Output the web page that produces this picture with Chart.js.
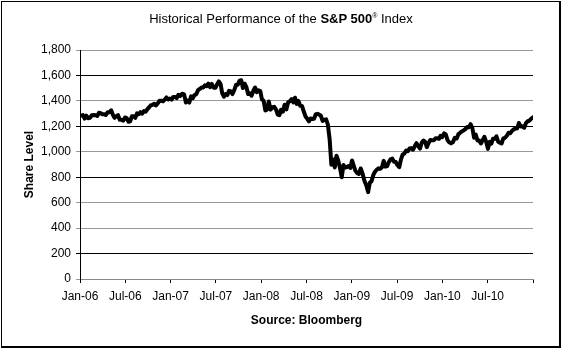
<!DOCTYPE html>
<html>
<head>
<meta charset="utf-8">
<script src="https://cdn.jsdelivr.net/npm/chart.js@4"></script>
<style>
  html, body { margin: 0; padding: 0; background: #fff; }
  #wrap { position: relative; width: 562px; height: 350px; overflow: hidden; }
  #frame { position: absolute; left: 1px; top: 1px; width: 557px; height: 344px;
           border-left: 1px solid #000; border-top: 1px solid #000;
           border-right: 2px solid #000; border-bottom: 2px solid #000; pointer-events: none; }
  #title { position: absolute; left: 0; width: 562px; top: 11px; text-align: center;
           font-family: "Liberation Sans", Arial, sans-serif; font-size: 13px; color: #000; }
  #title sup { font-size: 7px; vertical-align: 5px; }
  canvas { position: absolute; left: 0; top: 0; }
</style>
</head>
<body>
<div id="wrap">
  <canvas id="c" width="562" height="350"></canvas>
  <div id="title">Historical Performance of the <b>S&amp;P 500</b><sup>®</sup> Index</div>
  <div id="frame"></div>
</div>
<script>
// ---- Data (weekly closes) ----
const weekDates = [
'2006-01-06','2006-01-13','2006-01-20','2006-01-27','2006-02-03','2006-02-10','2006-02-17','2006-02-24',
'2006-03-03','2006-03-10','2006-03-17','2006-03-24','2006-03-31','2006-04-07','2006-04-13','2006-04-21','2006-04-28',
'2006-05-05','2006-05-12','2006-05-19','2006-05-26','2006-06-02','2006-06-09','2006-06-16','2006-06-23','2006-06-30',
'2006-07-07','2006-07-14','2006-07-21','2006-07-28','2006-08-04','2006-08-11','2006-08-18','2006-08-25',
'2006-09-01','2006-09-08','2006-09-15','2006-09-22','2006-09-29','2006-10-06','2006-10-13','2006-10-20','2006-10-27',
'2006-11-03','2006-11-10','2006-11-17','2006-11-24','2006-12-01','2006-12-08','2006-12-15','2006-12-22','2006-12-29',
'2007-01-05','2007-01-12','2007-01-19','2007-01-26','2007-02-02','2007-02-09','2007-02-16','2007-02-23',
'2007-03-02','2007-03-09','2007-03-16','2007-03-23','2007-03-30','2007-04-05','2007-04-13','2007-04-20','2007-04-27',
'2007-05-04','2007-05-11','2007-05-18','2007-05-25','2007-06-01','2007-06-08','2007-06-15','2007-06-22','2007-06-29',
'2007-07-06','2007-07-13','2007-07-20','2007-07-27','2007-08-03','2007-08-10','2007-08-17','2007-08-24','2007-08-31',
'2007-09-07','2007-09-14','2007-09-21','2007-09-28','2007-10-05','2007-10-12','2007-10-19','2007-10-26',
'2007-11-02','2007-11-09','2007-11-16','2007-11-23','2007-11-30','2007-12-07','2007-12-14','2007-12-21','2007-12-28',
'2008-01-04','2008-01-11','2008-01-18','2008-01-25','2008-02-01','2008-02-08','2008-02-15','2008-02-22','2008-02-29',
'2008-03-07','2008-03-14','2008-03-20','2008-03-28','2008-04-04','2008-04-11','2008-04-18','2008-04-25',
'2008-05-02','2008-05-09','2008-05-16','2008-05-23','2008-05-30','2008-06-06','2008-06-13','2008-06-20','2008-06-27',
'2008-07-03','2008-07-11','2008-07-18','2008-07-25','2008-08-01','2008-08-08','2008-08-15','2008-08-22','2008-08-29',
'2008-09-05','2008-09-12','2008-09-19','2008-09-26','2008-10-03','2008-10-10','2008-10-17','2008-10-24','2008-10-31',
'2008-11-07','2008-11-14','2008-11-21','2008-11-28','2008-12-05','2008-12-12','2008-12-19','2008-12-26',
'2009-01-02','2009-01-09','2009-01-16','2009-01-23','2009-01-30','2009-02-06','2009-02-13','2009-02-20','2009-02-27',
'2009-03-06','2009-03-13','2009-03-20','2009-03-27','2009-04-03','2009-04-09','2009-04-17','2009-04-24',
'2009-05-01','2009-05-08','2009-05-15','2009-05-22','2009-05-29','2009-06-05','2009-06-12','2009-06-19','2009-06-26',
'2009-07-02','2009-07-10','2009-07-17','2009-07-24','2009-07-31','2009-08-07','2009-08-14','2009-08-21','2009-08-28',
'2009-09-04','2009-09-11','2009-09-18','2009-09-25','2009-10-02','2009-10-09','2009-10-16','2009-10-23','2009-10-30',
'2009-11-06','2009-11-13','2009-11-20','2009-11-27','2009-12-04','2009-12-11','2009-12-18','2009-12-24','2009-12-31',
'2010-01-08','2010-01-15','2010-01-22','2010-01-29','2010-02-05','2010-02-12','2010-02-19','2010-02-26',
'2010-03-05','2010-03-12','2010-03-19','2010-03-26','2010-04-02','2010-04-09','2010-04-16','2010-04-23','2010-04-30',
'2010-05-07','2010-05-14','2010-05-21','2010-05-28','2010-06-04','2010-06-11','2010-06-18','2010-06-25',
'2010-07-02','2010-07-09','2010-07-16','2010-07-23','2010-07-30','2010-08-06','2010-08-13','2010-08-20','2010-08-27',
'2010-09-03','2010-09-10','2010-09-17','2010-09-24','2010-10-01','2010-10-08','2010-10-15','2010-10-22','2010-10-29',
'2010-11-05','2010-11-12','2010-11-19','2010-11-26','2010-12-03','2010-12-10','2010-12-17','2010-12-23','2010-12-31'
];
const shareLevel = [
1285,1288,1261,1284,1264,1267,1287,1289,
1287,1281,1307,1303,1295,1295,1289,1311,1311,
1326,1291,1267,1280,1288,1252,1252,1245,1270,
1265,1236,1240,1279,1279,1267,1302,1295,
1311,1299,1320,1315,1336,1350,1366,1369,1377,
1364,1381,1401,1401,1397,1410,1427,1411,1418,
1410,1431,1431,1422,1448,1438,1456,1451,
1387,1403,1387,1436,1421,1444,1453,1484,1494,
1506,1506,1523,1516,1536,1508,1533,1503,1503,
1530,1553,1534,1459,1433,1454,1446,1479,1474,
1454,1484,1526,1527,1558,1562,1501,1535,
1510,1454,1459,1441,1481,1505,1468,1484,1478,
1412,1401,1325,1331,1395,1331,1350,1353,1331,
1293,1288,1330,1315,1370,1333,1390,1398,
1414,1388,1425,1376,1400,1361,1360,1318,1278,
1263,1239,1261,1258,1260,1296,1298,1292,1283,
1242,1252,1255,1213,1099,899,941,877,969,
931,873,800,896,876,880,888,873,
932,890,850,832,826,869,827,770,735,
683,757,769,816,843,857,870,866,
878,929,883,887,919,940,946,921,919,
896,879,940,979,987,1010,1004,1026,1029,
1016,1043,1068,1044,1025,1071,1088,1080,1036,
1069,1093,1091,1091,1106,1106,1102,1126,1115,
1145,1136,1092,1074,1066,1076,1109,1104,
1139,1150,1160,1167,1178,1194,1192,1217,1187,
1111,1136,1088,1089,1065,1092,1118,1077,
1023,1078,1065,1103,1102,1122,1079,1072,1065,
1105,1110,1126,1149,1146,1165,1176,1183,1183,
1226,1199,1200,1189,1225,1240,1244,1257,1270
];
const tickLabels = ['Jan-06','Jul-06','Jan-07','Jul-07','Jan-08','Jul-08','Jan-09','Jul-09','Jan-10','Jul-10',''];
const yTickValues = [0,200,400,600,800,1000,1200,1400,1600,1800];
const darkGridValues = [200,800,1200,1600];

// month offset from Jan 2006 for each date
function monthPos(s) {
  const [y, m, d] = s.split('-').map(Number);
  const dim = new Date(y, m, 0).getDate();
  return (y - 2006) * 12 + (m - 1) + (d - 1) / dim;
}
const points = weekDates.map((d, i) => ({ x: monthPos(d), y: shareLevel[i] }));

const FONT = '"Liberation Sans", Arial, sans-serif';
Chart.defaults.font.family = FONT;
Chart.defaults.color = '#000';

new Chart(document.getElementById('c'), {
  type: 'line',
  data: { datasets: [{ data: points, borderColor: '#000', borderWidth: 4, pointRadius: 0,
                       tension: 0, fill: false, borderJoinStyle: 'round', borderCapStyle: 'round' }] },
  options: {
    responsive: false, animation: false, devicePixelRatio: 1,
    layout: { padding: { left: 18, right: 29, top: 50, bottom: 22 } },
    plugins: { legend: { display: false }, tooltip: { enabled: false } },
    scales: {
      x: {
        type: 'linear', min: 0, max: 60,
        afterFit: s => { s.height = 49; },
        afterBuildTicks: s => { s.ticks = tickLabels.map((_, i) => ({ value: i * 6 })); },
        ticks: { autoSkip: false, maxRotation: 0, padding: 6, font: { size: 12 },
                 callback: (v, i) => tickLabels[i] },
        grid: { drawOnChartArea: false, drawTicks: true, tickLength: 4, color: '#000' },
        border: { color: '#888', width: 1 },
        title: { display: true, text: 'Source: Bloomberg', font: { size: 12, weight: 'bold' },
                 padding: { top: 4, bottom: 0 } }
      },
      y: {
        min: 0, max: 1800,
        afterFit: s => { s.width = 62; },
        afterBuildTicks: s => { s.ticks = yTickValues.map(v => ({ value: v })); },
        ticks: { padding: 5, font: { size: 12 },
                 callback: v => v.toLocaleString('en-US') },
        grid: { tickLength: 4,
                color: c => darkGridValues.includes(c.tick && c.tick.value) ? '#000' : '#999' },
        border: { color: '#000', width: 1 },
        title: { display: true, text: 'Share Level', font: { size: 12, weight: 'bold' },
                 padding: { top: 4, bottom: 4 } }
      }
    }
  }
});
</script>
</body>
</html>
